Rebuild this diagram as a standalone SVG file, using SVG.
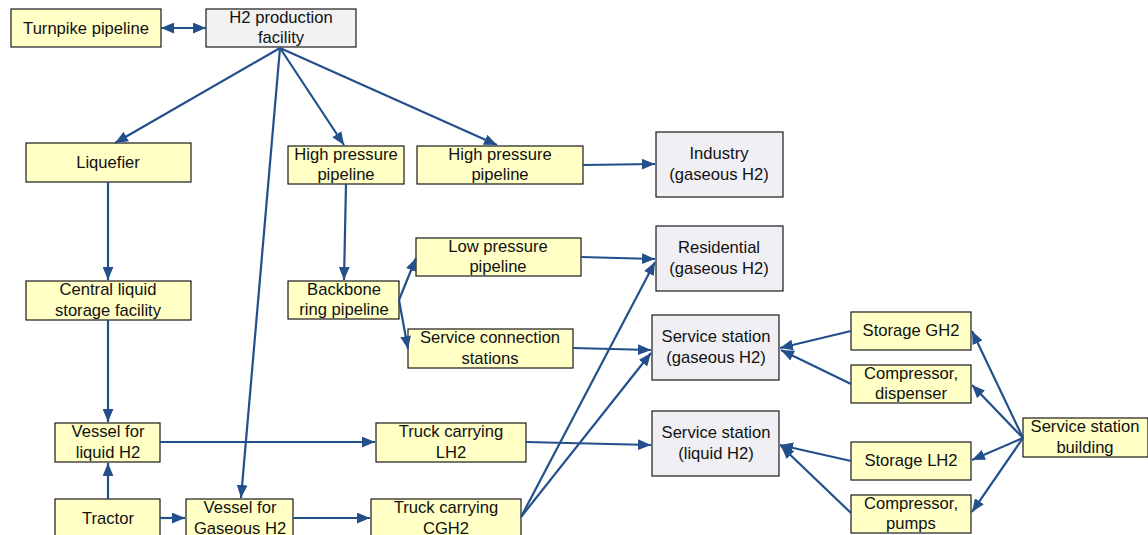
<svg xmlns="http://www.w3.org/2000/svg" width="1148" height="535" viewBox="0 0 1148 535">
<style>
.y{fill:#ffffc6;stroke:#1a1a1a;stroke-width:1.2}
.g{fill:#f0eff4;stroke:#1a1a1a;stroke-width:1.2}
.h{fill:#f2f2f2;stroke:#1a1a1a;stroke-width:1.2}
text{font-family:"Liberation Sans",Arial,sans-serif;font-size:16.6px;fill:#111;text-anchor:middle}
.c line{stroke:#234f8b;stroke-width:2.2;fill:none;marker-end:url(#a)}
</style>
<defs>
<marker id="a" viewBox="0 0 12 10" refX="12" refY="5" markerWidth="13" markerHeight="11" markerUnits="userSpaceOnUse" orient="auto-start-reverse">
<path d="M0,0 L12,5 L0,10 z" fill="#234f8b"/>
</marker>
</defs>
<g id="turnpike"><rect class="y" x="11" y="9" width="150" height="38"/><text x="86" y="34">Turnpike pipeline</text></g>
<g id="h2prod"><rect class="h" x="206" y="9" width="150" height="38"/><text x="281" y="23">H2 production</text><text x="281" y="43">facility</text></g>
<g id="liquefier"><rect class="y" x="26" y="143" width="165" height="39"/><text x="108" y="168">Liquefier</text></g>
<g id="hp1"><rect class="y" x="288" y="146" width="116" height="38"/><text x="346" y="160">High pressure</text><text x="346" y="180">pipeline</text></g>
<g id="hp2"><rect class="y" x="417" y="146" width="166" height="38"/><text x="500" y="160">High pressure</text><text x="500" y="180">pipeline</text></g>
<g id="industry"><rect class="g" x="656" y="132" width="127" height="65"/><text x="719" y="159">Industry</text><text x="719" y="180">(gaseous H2)</text></g>
<g id="residential"><rect class="g" x="656" y="226" width="127" height="65"/><text x="719" y="253">Residential</text><text x="719" y="274">(gaseous H2)</text></g>
<g id="lowp"><rect class="y" x="416" y="238" width="165" height="38"/><text x="498" y="252">Low pressure</text><text x="498" y="272">pipeline</text></g>
<g id="backbone"><rect class="y" x="288" y="281" width="111" height="38"/><text x="344" y="295">Backbone</text><text x="344" y="315">ring pipeline</text></g>
<g id="central"><rect class="y" x="26" y="281" width="165" height="39"/><text x="108" y="295">Central liquid</text><text x="108" y="316">storage facility</text></g>
<g id="svcconn"><rect class="y" x="408" y="329" width="165" height="39"/><text x="490" y="343">Service connection</text><text x="490" y="364">stations</text></g>
<g id="ssgas"><rect class="g" x="652" y="315" width="127" height="65"/><text x="716" y="342">Service station</text><text x="716" y="363">(gaseous H2)</text></g>
<g id="ssliq"><rect class="g" x="652" y="411" width="127" height="65"/><text x="716" y="438">Service station</text><text x="716" y="459">(liquid H2)</text></g>
<g id="storgh2"><rect class="y" x="851" y="312" width="120" height="38"/><text x="911" y="336">Storage GH2</text></g>
<g id="compdisp"><rect class="y" x="851" y="365" width="120" height="38"/><text x="911" y="379">Compressor,</text><text x="911" y="399">dispenser</text></g>
<g id="storlh2"><rect class="y" x="851" y="442" width="120" height="38"/><text x="911" y="466">Storage LH2</text></g>
<g id="comppump"><rect class="y" x="851" y="495" width="120" height="38"/><text x="911" y="509">Compressor,</text><text x="911" y="529">pumps</text></g>
<g id="ssbuild"><rect class="y" x="1023" y="418" width="125" height="39"/><text x="1085" y="432">Service station</text><text x="1085" y="453">building</text></g>
<g id="vesliq"><rect class="y" x="55" y="423" width="105" height="39"/><text x="108" y="437">Vessel for</text><text x="108" y="458">liquid H2</text></g>
<g id="trucklh2"><rect class="y" x="376" y="423" width="150" height="39"/><text x="451" y="437">Truck carrying</text><text x="451" y="458">LH2</text></g>
<g id="tractor"><rect class="y" x="55" y="499" width="105" height="40"/><text x="108" y="524">Tractor</text></g>
<g id="vesgas"><rect class="y" x="186" y="499" width="107" height="40"/><text x="240" y="513">Vessel for</text><text x="240" y="534">Gaseous H2</text></g>
<g id="truckcgh2"><rect class="y" x="371" y="499" width="150" height="40"/><text x="446" y="513">Truck carrying</text><text x="446" y="534">CGH2</text></g>
<g class="c" id="connectors">
<line x1="161" y1="28" x2="206" y2="28" style="marker-start:url(#a)"/>
<line x1="280" y1="48" x2="115" y2="143"/>
<line x1="280" y1="48" x2="241" y2="498"/>
<line x1="280" y1="48" x2="344" y2="145"/>
<line x1="280" y1="48" x2="497" y2="145"/>
<line x1="583" y1="165" x2="655" y2="164"/>
<line x1="346" y1="184" x2="344" y2="280"/>
<line x1="108" y1="182" x2="108" y2="280"/>
<line x1="108" y1="320" x2="108" y2="422"/>
<line x1="108" y1="499" x2="108" y2="463"/>
<line x1="399" y1="300" x2="416" y2="258"/>
<line x1="399" y1="300" x2="408" y2="349"/>
<line x1="581" y1="257" x2="655" y2="259"/>
<line x1="573" y1="348" x2="651" y2="350"/>
<line x1="160" y1="442" x2="375" y2="442"/>
<line x1="526" y1="442" x2="651" y2="445"/>
<line x1="160" y1="518" x2="185" y2="518"/>
<line x1="293" y1="518" x2="370" y2="518"/>
<line x1="521" y1="517" x2="655" y2="262"/>
<line x1="521" y1="517" x2="651" y2="353"/>
<line x1="851" y1="331" x2="780" y2="348"/>
<line x1="851" y1="384" x2="781" y2="350"/>
<line x1="851" y1="461" x2="780" y2="445"/>
<line x1="851" y1="513" x2="781" y2="446"/>
<line x1="1023" y1="438" x2="972" y2="331"/>
<line x1="1023" y1="438" x2="972" y2="385"/>
<line x1="1023" y1="438" x2="972" y2="460"/>
<line x1="1023" y1="438" x2="972" y2="512"/>
</g>
</svg>
